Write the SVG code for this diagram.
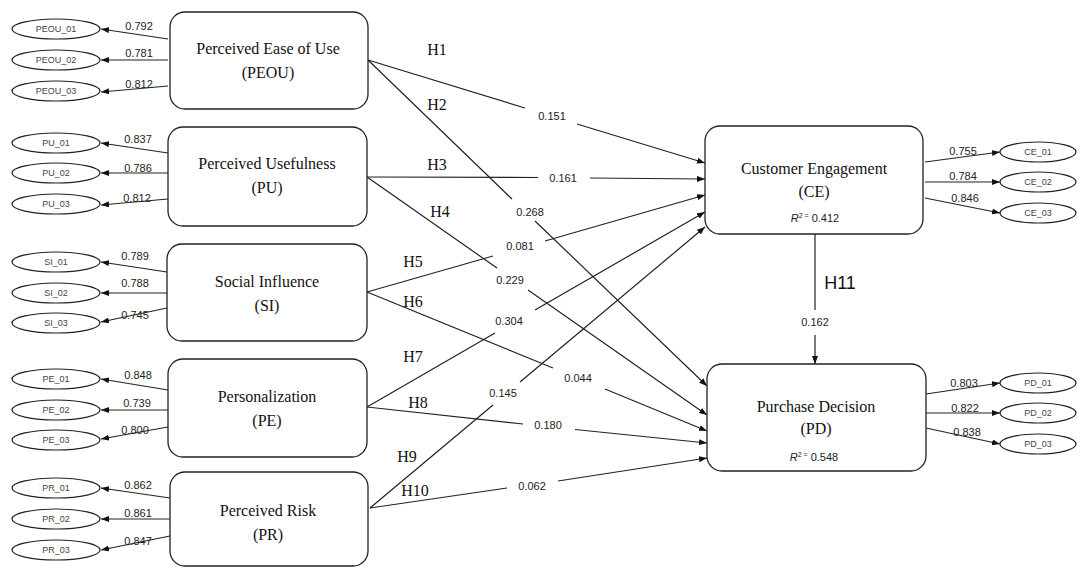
<svg xmlns="http://www.w3.org/2000/svg" width="1084" height="568" viewBox="0 0 1084 568">
<style>
.box{fill:#fff;stroke:#222;stroke-width:1.3}
.ell{fill:#fff;stroke:#222;stroke-width:1.2}
.ln{fill:none;stroke:#222;stroke-width:1.2;marker-end:url(#ah)}
.bt{font-family:"Liberation Serif","Times New Roman",serif;font-size:16px;fill:#111;text-anchor:middle}
.h{font-family:"Liberation Serif","Times New Roman",serif;font-size:16px;fill:#111;text-anchor:middle}
.v{font-family:"Liberation Sans",Arial,sans-serif;font-size:11px;fill:#222;text-anchor:middle}
.et{font-family:"Liberation Sans",Arial,sans-serif;font-size:9px;fill:#444;text-anchor:middle}
.r2{font-family:"Liberation Sans",Arial,sans-serif;font-size:11px;fill:#222;text-anchor:middle}
</style>
<defs>
<marker id="ah" viewBox="0 0 8 6" refX="8" refY="3" markerWidth="8" markerHeight="6" markerUnits="userSpaceOnUse" orient="auto">
<path d="M0,0 L8,3 L0,6 z" fill="#111"/>
</marker>
</defs>

<g id="connectors">
<path class="ln" d="M168,39 L101,29"/>
<path class="ln" d="M168,60 L101,60"/>
<path class="ln" d="M168,86 L101,92"/>
<path class="ln" d="M168,153 L101,143"/>
<path class="ln" d="M168,173 L101,173"/>
<path class="ln" d="M168,199 L101,205"/>
<path class="ln" d="M167,272 L101,262"/>
<path class="ln" d="M167,293 L101,293"/>
<path class="ln" d="M167,308 L101,322"/>
<path class="ln" d="M168,390 L101,379"/>
<path class="ln" d="M168,410 L101,410"/>
<path class="ln" d="M168,427 L101,439"/>
<path class="ln" d="M170,498 L101,488"/>
<path class="ln" d="M170,519 L101,519"/>
<path class="ln" d="M170,536 L101,550"/>
<path class="ln" d="M925,162 L1000,152"/>
<path class="ln" d="M925,182 L1000,182"/>
<path class="ln" d="M925,198 L1000,213"/>
<path class="ln" d="M926,394 L1000,383"/>
<path class="ln" d="M926,413 L1000,413"/>
<path class="ln" d="M926,428 L1000,444"/>
<path class="ln" d="M368,60 L525,108 M577,124 L705,163"/>
<path class="ln" d="M368,60 L512,199 M535,221 L707,386"/>
<path class="ln" d="M367,177 L538,177.5 M590,178 L705,179"/>
<path class="ln" d="M367,177 L497,268 M528,290 L707,415"/>
<path class="ln" d="M367,292 L493,256 M545,241 L705,195"/>
<path class="ln" d="M367,292 L553,368 M605,389 L707,431"/>
<path class="ln" d="M367,407 L495,333 M535,310 L705,212"/>
<path class="ln" d="M367,407 L523,424 M575,429.5 L707,443"/>
<path class="ln" d="M370,508 L493,405 M520,382 L705,227"/>
<path class="ln" d="M370,508 L507,488 M558,481 L707,458"/>
<path class="ln" d="M815,234 L815,310 M815,335 L815,364"/>
</g>

<g id="PEOU">
<rect class="box" x="170" y="12" width="198" height="97" rx="15"/>
<text class="bt" x="268" y="54">Perceived Ease of Use</text>
<text class="bt" x="268" y="78">(PEOU)</text>
</g>
<g id="PU">
<rect class="box" x="168" y="127" width="199" height="99" rx="15"/>
<text class="bt" x="267" y="169">Perceived Usefulness</text>
<text class="bt" x="267" y="193">(PU)</text>
</g>
<g id="SI">
<rect class="box" x="167" y="244" width="200" height="97" rx="15"/>
<text class="bt" x="267" y="287">Social Influence</text>
<text class="bt" x="267" y="311">(SI)</text>
</g>
<g id="PE">
<rect class="box" x="168" y="359" width="199" height="98" rx="15"/>
<text class="bt" x="267" y="402">Personalization</text>
<text class="bt" x="267" y="426">(PE)</text>
</g>
<g id="PR">
<rect class="box" x="170" y="472" width="198" height="94" rx="15"/>
<text class="bt" x="268" y="516">Perceived Risk</text>
<text class="bt" x="268" y="540">(PR)</text>
</g>
<g id="CE">
<rect class="box" x="705" y="126" width="218" height="108" rx="15"/>
<text class="bt" x="814" y="174">Customer Engagement</text>
<text class="bt" x="814" y="197">(CE)</text>
<text class="r2" x="815" y="222"><tspan font-style="italic">R</tspan><tspan dy="-4" font-size="7">2 =</tspan><tspan dy="4"> 0.412</tspan></text>
</g>
<g id="PD">
<rect class="box" x="707" y="364" width="219" height="107" rx="15"/>
<text class="bt" x="816" y="412">Purchase Decision</text>
<text class="bt" x="816" y="434">(PD)</text>
<text class="r2" x="814" y="461"><tspan font-style="italic">R</tspan><tspan dy="-4" font-size="7">2 =</tspan><tspan dy="4"> 0.548</tspan></text>
</g>

<g id="indicators-left">
<g id="PEOU_01"><ellipse class="ell" cx="56" cy="29" rx="44" ry="10"/><text class="et" x="56" y="32">PEOU_01</text></g>
<g id="PEOU_02"><ellipse class="ell" cx="56" cy="60" rx="44" ry="10"/><text class="et" x="56" y="63">PEOU_02</text></g>
<g id="PEOU_03"><ellipse class="ell" cx="56" cy="91" rx="44" ry="10"/><text class="et" x="56" y="94">PEOU_03</text></g>
<g id="PU_01"><ellipse class="ell" cx="56" cy="143" rx="44" ry="10"/><text class="et" x="56" y="146">PU_01</text></g>
<g id="PU_02"><ellipse class="ell" cx="56" cy="173" rx="44" ry="10"/><text class="et" x="56" y="176">PU_02</text></g>
<g id="PU_03"><ellipse class="ell" cx="56" cy="204" rx="44" ry="10"/><text class="et" x="56" y="207">PU_03</text></g>
<g id="SI_01"><ellipse class="ell" cx="56" cy="262" rx="44" ry="10"/><text class="et" x="56" y="265">SI_01</text></g>
<g id="SI_02"><ellipse class="ell" cx="56" cy="293" rx="44" ry="10"/><text class="et" x="56" y="296">SI_02</text></g>
<g id="SI_03"><ellipse class="ell" cx="56" cy="323" rx="44" ry="10"/><text class="et" x="56" y="326">SI_03</text></g>
<g id="PE_01"><ellipse class="ell" cx="56" cy="379" rx="44" ry="10"/><text class="et" x="56" y="382">PE_01</text></g>
<g id="PE_02"><ellipse class="ell" cx="56" cy="410" rx="44" ry="10"/><text class="et" x="56" y="413">PE_02</text></g>
<g id="PE_03"><ellipse class="ell" cx="56" cy="440" rx="44" ry="10"/><text class="et" x="56" y="443">PE_03</text></g>
<g id="PR_01"><ellipse class="ell" cx="56" cy="488" rx="44" ry="10"/><text class="et" x="56" y="491">PR_01</text></g>
<g id="PR_02"><ellipse class="ell" cx="56" cy="519" rx="44" ry="10"/><text class="et" x="56" y="522">PR_02</text></g>
<g id="PR_03"><ellipse class="ell" cx="56" cy="550" rx="44" ry="10"/><text class="et" x="56" y="553">PR_03</text></g>
</g>
<g id="indicators-right">
<g id="CE_01"><ellipse class="ell" cx="1038" cy="152" rx="38" ry="10"/><text class="et" x="1038" y="155">CE_01</text></g>
<g id="CE_02"><ellipse class="ell" cx="1038" cy="182" rx="38" ry="10"/><text class="et" x="1038" y="185">CE_02</text></g>
<g id="CE_03"><ellipse class="ell" cx="1038" cy="213" rx="38" ry="10"/><text class="et" x="1038" y="216">CE_03</text></g>
<g id="PD_01"><ellipse class="ell" cx="1038" cy="383" rx="38" ry="10"/><text class="et" x="1038" y="386">PD_01</text></g>
<g id="PD_02"><ellipse class="ell" cx="1038" cy="413" rx="38" ry="10"/><text class="et" x="1038" y="416">PD_02</text></g>
<g id="PD_03"><ellipse class="ell" cx="1038" cy="444" rx="38" ry="10"/><text class="et" x="1038" y="447">PD_03</text></g>
</g>

<g id="loading-labels">
<text class="v" x="139" y="30">0.792</text>
<text class="v" x="139" y="57">0.781</text>
<text class="v" x="139" y="88">0.812</text>
<text class="v" x="138" y="143">0.837</text>
<text class="v" x="138" y="172">0.786</text>
<text class="v" x="137" y="202">0.812</text>
<text class="v" x="135" y="260">0.789</text>
<text class="v" x="135" y="287">0.788</text>
<text class="v" x="135" y="319">0.745</text>
<text class="v" x="138" y="379">0.848</text>
<text class="v" x="137" y="407">0.739</text>
<text class="v" x="135" y="434">0.800</text>
<text class="v" x="138" y="489">0.862</text>
<text class="v" x="138" y="517">0.861</text>
<text class="v" x="138" y="545">0.847</text>
<text class="v" x="963" y="155">0.755</text>
<text class="v" x="963" y="180">0.784</text>
<text class="v" x="965" y="202">0.846</text>
<text class="v" x="964" y="387">0.803</text>
<text class="v" x="965" y="412">0.822</text>
<text class="v" x="967" y="436">0.838</text>
</g>

<g id="path-labels">
<text class="v" x="552" y="120">0.151</text>
<text class="v" x="563" y="182">0.161</text>
<text class="v" x="530" y="216">0.268</text>
<text class="v" x="520" y="250">0.081</text>
<text class="v" x="510" y="284">0.229</text>
<text class="v" x="509" y="325">0.304</text>
<text class="v" x="578" y="382">0.044</text>
<text class="v" x="503" y="397">0.145</text>
<text class="v" x="548" y="429">0.180</text>
<text class="v" x="532" y="490">0.062</text>
<text class="v" x="815" y="326">0.162</text>
<text class="h" x="437" y="55">H1</text>
<text class="h" x="437" y="110">H2</text>
<text class="h" x="437" y="170">H3</text>
<text class="h" x="440" y="217">H4</text>
<text class="h" x="413" y="267">H5</text>
<text class="h" x="413" y="307">H6</text>
<text class="h" x="413" y="362">H7</text>
<text class="h" x="418" y="408">H8</text>
<text class="h" x="407" y="462">H9</text>
<text class="h" x="415" y="496">H10</text>
<text x="840" y="289" font-family="'Liberation Sans',Arial,sans-serif" font-size="18" fill="#111" text-anchor="middle">H11</text>
</g>
</svg>
